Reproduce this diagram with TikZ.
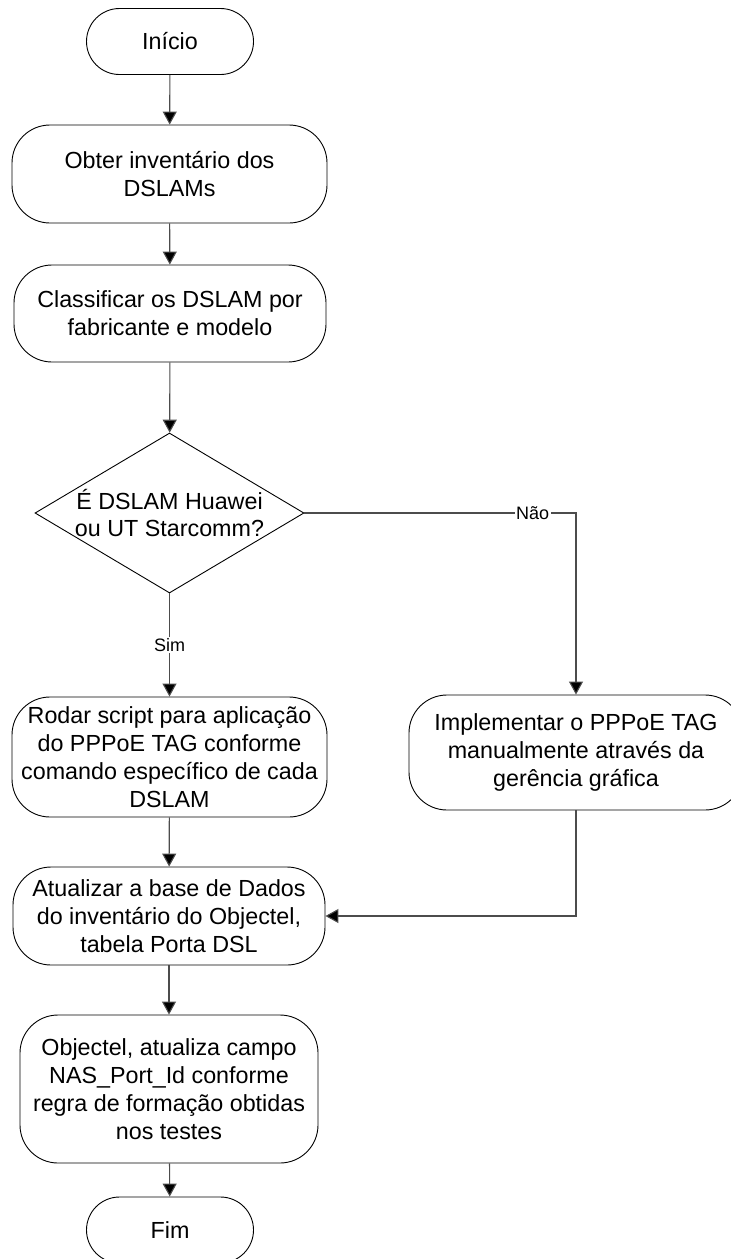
\documentclass[tikz,border=0pt]{standalone}
\usepackage{fontspec}
\setmainfont{Liberation Sans}
\usetikzlibrary{arrows.meta,shapes.geometric}

\begin{document}
\begin{tikzpicture}[x=1pt,y=-1pt,
  caixa/.style={draw,line width=0.9pt,rounded corners=38pt,align=center,
    font=\fontsize{23.3}{28}\selectfont,inner sep=0pt},
  terminal/.style={caixa,rounded corners=33pt,minimum width=167pt,minimum height=66pt},
  decisao/.style={draw,line width=0.9pt,diamond,aspect=1.68,inner sep=-3pt,align=center,
    minimum width=269pt,minimum height=160pt,font=\fontsize{23.3}{27}\selectfont},
  seta/.style={draw=black!70,line width=1.1pt,-{Triangle[width=14pt,length=13pt,fill=black]}},
  rotulo/.style={fill=white,font=\fontsize{18}{20}\selectfont,inner sep=1.5pt}]
\useasboundingbox (0,0) rectangle (731,1259);
\node[terminal] (inicio) at (170,41.5) {Início};
\node[caixa,minimum width=315pt,minimum height=98pt] (obter) at (169.5,174)
  {Obter inventário dos\\DSLAMs};
\node[caixa,minimum width=312pt,minimum height=97pt] (classif) at (170,313.5)
  {Classificar os DSLAM por\\fabricante e modelo};
\node[decisao] (huawei) at (169.5,513) {É DSLAM Huawei\\ou UT Starcomm?};
\node[caixa,minimum width=315pt,minimum height=120pt] (rodar) at (169.5,757)
  {Rodar script para aplicação\\do PPPoE TAG conforme\\comando específico de cada\\DSLAM};
\node[caixa,minimum width=334pt,minimum height=115pt] (manual) at (576,752.5)
  {Implementar o PPPoE TAG\\manualmente através da\\gerência gráfica};
\node[caixa,minimum width=312pt,minimum height=98pt] (atualizar) at (169,916)
  {Atualizar a base de Dados\\do inventário do Objectel,\\tabela Porta DSL};
\node[caixa,minimum width=298pt,minimum height=148pt] (objectel) at (169,1089)
  {Objectel, atualiza campo\\NAS\_Port\_Id conforme\\regra de formação obtidas\\nos testes};
\node[terminal] (fim) at (170,1230) {Fim};

\draw[seta] (inicio) -- (obter);
\draw[seta] (obter) -- (classif);
\draw[seta] (classif) -- (huawei);
\draw[seta] (huawei) -- node[rotulo]{Sim} (rodar);
\draw[seta] (huawei.east) -| node[rotulo,pos=0.42]{Não} (manual.north);
\draw[seta] (rodar) -- (atualizar);
\draw[seta] (manual.south) |- (atualizar.east);
\draw[seta] (atualizar) -- (objectel);
\draw[seta] (objectel) -- (fim);
\end{tikzpicture}
\end{document}
